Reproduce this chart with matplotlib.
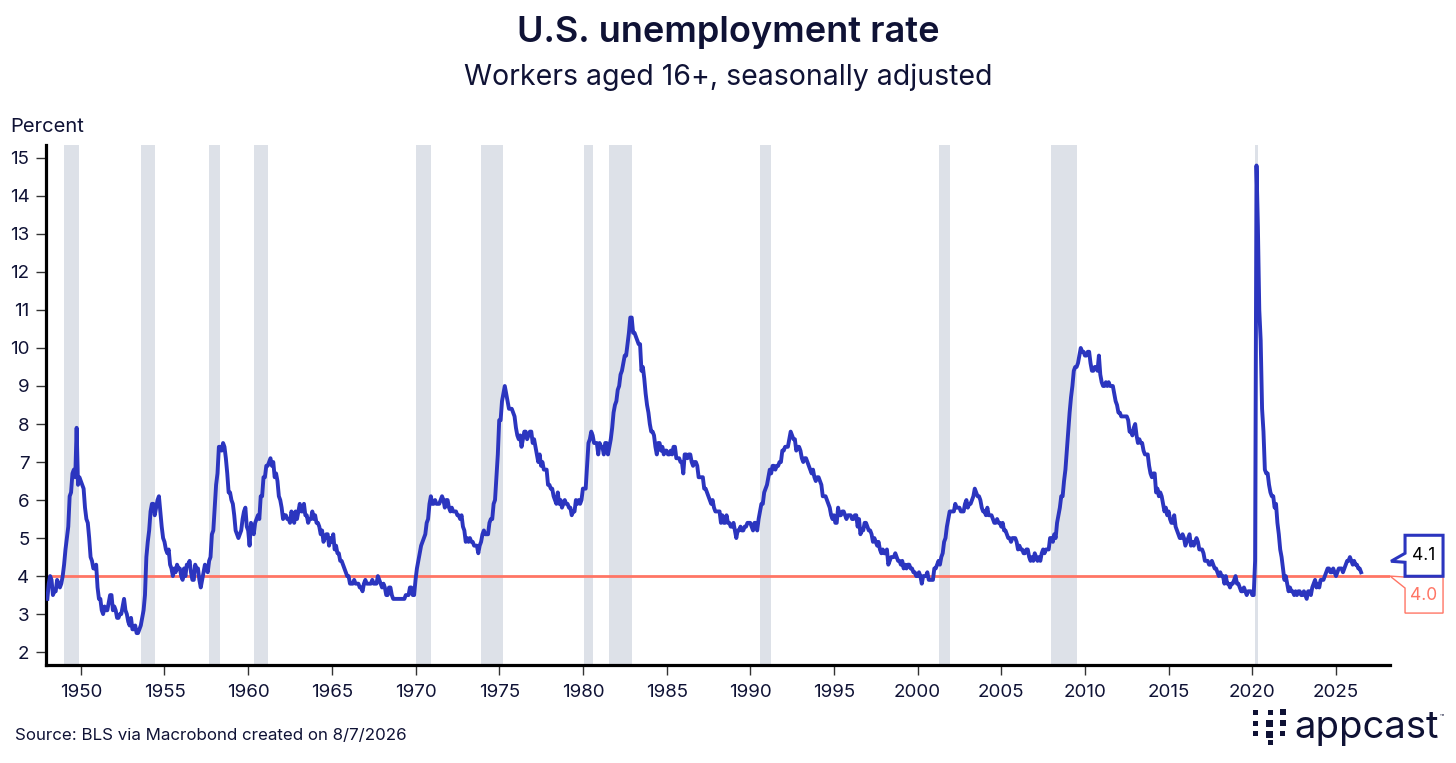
import numpy as np
import matplotlib
matplotlib.use("Agg")
import matplotlib.pyplot as plt
from matplotlib.patches import Polygon, Rectangle
from matplotlib.transforms import ScaledTranslation

# --- data: monthly unemployment rate, starting January 1948 ---
start_year = 1948
rate = [
    3.4, 3.8, 4.0, 3.9, 3.5, 3.6, 3.6, 3.9, 3.8, 3.7, 3.8, 4.0,   # 1948
    4.3, 4.7, 5.0, 5.3, 6.1, 6.2, 6.7, 6.8, 6.6, 7.9, 6.4, 6.6,   # 1949
    6.5, 6.4, 6.3, 5.8, 5.5, 5.4, 5.0, 4.5, 4.4, 4.2, 4.2, 4.3,   # 1950
    3.7, 3.4, 3.4, 3.1, 3.0, 3.2, 3.1, 3.1, 3.3, 3.5, 3.5, 3.1,   # 1951
    3.2, 3.1, 2.9, 2.9, 3.0, 3.0, 3.2, 3.4, 3.1, 3.0, 2.8, 2.7,   # 1952
    2.9, 2.6, 2.6, 2.7, 2.5, 2.5, 2.6, 2.7, 2.9, 3.1, 3.5, 4.5,   # 1953
    4.9, 5.2, 5.7, 5.9, 5.9, 5.6, 5.8, 6.0, 6.1, 5.7, 5.3, 5.0,   # 1954
    4.9, 4.7, 4.6, 4.7, 4.3, 4.2, 4.0, 4.2, 4.1, 4.3, 4.2, 4.2,   # 1955
    4.0, 3.9, 4.2, 4.0, 4.3, 4.3, 4.4, 4.1, 3.9, 3.9, 4.3, 4.2,   # 1956
    4.2, 3.9, 3.7, 3.9, 4.1, 4.3, 4.2, 4.1, 4.4, 4.5, 5.1, 5.2,   # 1957
    5.8, 6.4, 6.7, 7.4, 7.4, 7.3, 7.5, 7.4, 7.1, 6.7, 6.2, 6.2,   # 1958
    6.0, 5.9, 5.6, 5.2, 5.1, 5.0, 5.1, 5.2, 5.5, 5.7, 5.8, 5.3,   # 1959
    5.2, 4.8, 5.4, 5.2, 5.1, 5.4, 5.5, 5.6, 5.5, 6.1, 6.1, 6.6,   # 1960
    6.6, 6.9, 6.9, 7.0, 7.1, 6.9, 7.0, 6.6, 6.7, 6.5, 6.1, 6.0,   # 1961
    5.8, 5.5, 5.6, 5.6, 5.5, 5.5, 5.4, 5.7, 5.6, 5.4, 5.7, 5.5,   # 1962
    5.7, 5.9, 5.7, 5.7, 5.9, 5.6, 5.6, 5.4, 5.5, 5.5, 5.7, 5.5,   # 1963
    5.6, 5.4, 5.4, 5.3, 5.1, 5.2, 4.9, 5.0, 5.1, 5.1, 4.8, 5.0,   # 1964
    4.9, 5.1, 4.7, 4.8, 4.6, 4.6, 4.4, 4.4, 4.3, 4.2, 4.1, 4.0,   # 1965
    4.0, 3.8, 3.8, 3.8, 3.9, 3.8, 3.8, 3.8, 3.7, 3.7, 3.6, 3.8,   # 1966
    3.9, 3.8, 3.8, 3.8, 3.8, 3.9, 3.8, 3.8, 3.8, 4.0, 3.9, 3.8,   # 1967
    3.7, 3.8, 3.7, 3.5, 3.5, 3.7, 3.7, 3.5, 3.4, 3.4, 3.4, 3.4,   # 1968
    3.4, 3.4, 3.4, 3.4, 3.4, 3.5, 3.5, 3.5, 3.7, 3.7, 3.5, 3.5,   # 1969
    3.9, 4.2, 4.4, 4.6, 4.8, 4.9, 5.0, 5.1, 5.4, 5.5, 5.9, 6.1,   # 1970
    5.9, 5.9, 6.0, 5.9, 5.9, 5.9, 6.0, 6.1, 6.0, 5.8, 6.0, 6.0,   # 1971
    5.8, 5.7, 5.8, 5.7, 5.7, 5.7, 5.6, 5.6, 5.5, 5.6, 5.3, 5.2,   # 1972
    4.9, 5.0, 4.9, 5.0, 4.9, 4.9, 4.8, 4.8, 4.8, 4.6, 4.8, 4.9,   # 1973
    5.1, 5.2, 5.1, 5.1, 5.1, 5.4, 5.5, 5.5, 5.9, 6.0, 6.6, 7.2,   # 1974
    8.1, 8.1, 8.6, 8.8, 9.0, 8.8, 8.6, 8.4, 8.4, 8.4, 8.3, 8.2,   # 1975
    7.9, 7.7, 7.6, 7.7, 7.4, 7.6, 7.8, 7.8, 7.6, 7.7, 7.8, 7.8,   # 1976
    7.5, 7.6, 7.4, 7.2, 7.0, 7.2, 6.9, 7.0, 6.8, 6.8, 6.8, 6.4,   # 1977
    6.4, 6.3, 6.3, 6.1, 6.0, 5.9, 6.2, 5.9, 6.0, 5.8, 5.9, 6.0,   # 1978
    5.9, 5.9, 5.8, 5.8, 5.6, 5.7, 5.7, 6.0, 5.9, 6.0, 5.9, 6.0,   # 1979
    6.3, 6.3, 6.3, 6.9, 7.5, 7.6, 7.8, 7.7, 7.5, 7.5, 7.5, 7.2,   # 1980
    7.5, 7.4, 7.4, 7.2, 7.5, 7.5, 7.2, 7.4, 7.6, 7.9, 8.3, 8.5,   # 1981
    8.6, 8.9, 9.0, 9.3, 9.4, 9.6, 9.8, 9.8, 10.1, 10.4, 10.8, 10.8,  # 1982
    10.4, 10.4, 10.3, 10.2, 10.1, 10.1, 9.4, 9.5, 9.2, 8.8, 8.5, 8.3,  # 1983
    8.0, 7.8, 7.8, 7.7, 7.4, 7.2, 7.5, 7.5, 7.3, 7.4, 7.2, 7.3,   # 1984
    7.3, 7.2, 7.2, 7.3, 7.2, 7.4, 7.4, 7.1, 7.1, 7.1, 7.0, 7.0,   # 1985
    6.7, 7.2, 7.2, 7.1, 7.2, 7.2, 7.0, 6.9, 7.0, 7.0, 6.9, 6.6,   # 1986
    6.6, 6.6, 6.6, 6.3, 6.3, 6.2, 6.1, 6.0, 5.9, 6.0, 5.8, 5.7,   # 1987
    5.7, 5.7, 5.7, 5.4, 5.6, 5.4, 5.4, 5.6, 5.4, 5.4, 5.3, 5.3,   # 1988
    5.4, 5.2, 5.0, 5.2, 5.2, 5.3, 5.2, 5.2, 5.3, 5.3, 5.4, 5.4,   # 1989
    5.4, 5.3, 5.2, 5.4, 5.4, 5.2, 5.5, 5.7, 5.9, 5.9, 6.2, 6.3,   # 1990
    6.4, 6.6, 6.8, 6.7, 6.9, 6.9, 6.8, 6.9, 6.9, 7.0, 7.0, 7.3,   # 1991
    7.3, 7.4, 7.4, 7.4, 7.6, 7.8, 7.7, 7.6, 7.6, 7.3, 7.4, 7.4,   # 1992
    7.3, 7.1, 7.0, 7.1, 7.1, 7.0, 6.9, 6.8, 6.7, 6.8, 6.6, 6.5,   # 1993
    6.6, 6.6, 6.5, 6.4, 6.1, 6.1, 6.1, 6.0, 5.9, 5.8, 5.6, 5.5,   # 1994
    5.6, 5.4, 5.4, 5.8, 5.6, 5.6, 5.7, 5.7, 5.6, 5.5, 5.6, 5.6,   # 1995
    5.6, 5.5, 5.5, 5.6, 5.6, 5.3, 5.5, 5.1, 5.2, 5.2, 5.4, 5.4,   # 1996
    5.3, 5.2, 5.2, 5.1, 4.9, 5.0, 4.9, 4.8, 4.9, 4.7, 4.6, 4.7,   # 1997
    4.6, 4.6, 4.7, 4.3, 4.4, 4.5, 4.5, 4.5, 4.6, 4.5, 4.4, 4.4,   # 1998
    4.3, 4.4, 4.2, 4.3, 4.2, 4.3, 4.3, 4.2, 4.2, 4.1, 4.1, 4.0,   # 1999
    4.0, 4.1, 4.0, 3.8, 4.0, 4.0, 4.0, 4.1, 3.9, 3.9, 3.9, 3.9,   # 2000
    4.2, 4.2, 4.3, 4.4, 4.3, 4.5, 4.6, 4.9, 5.0, 5.3, 5.5, 5.7,   # 2001
    5.7, 5.7, 5.7, 5.9, 5.8, 5.8, 5.8, 5.7, 5.7, 5.7, 5.9, 6.0,   # 2002
    5.8, 5.9, 5.9, 6.0, 6.1, 6.3, 6.2, 6.1, 6.1, 6.0, 5.8, 5.7,   # 2003
    5.7, 5.6, 5.8, 5.6, 5.6, 5.6, 5.5, 5.4, 5.4, 5.5, 5.4, 5.4,   # 2004
    5.3, 5.4, 5.2, 5.2, 5.1, 5.0, 5.0, 4.9, 5.0, 5.0, 5.0, 4.9,   # 2005
    4.7, 4.8, 4.7, 4.7, 4.6, 4.6, 4.7, 4.7, 4.5, 4.4, 4.5, 4.4,   # 2006
    4.6, 4.5, 4.4, 4.5, 4.4, 4.6, 4.7, 4.6, 4.7, 4.7, 4.7, 5.0,   # 2007
    5.0, 4.9, 5.1, 5.0, 5.4, 5.6, 5.8, 6.1, 6.1, 6.5, 6.8, 7.3,   # 2008
    7.8, 8.3, 8.7, 9.0, 9.4, 9.5, 9.5, 9.6, 9.8, 10.0, 9.9, 9.9,  # 2009
    9.8, 9.8, 9.9, 9.9, 9.6, 9.4, 9.4, 9.5, 9.5, 9.4, 9.8, 9.3,   # 2010
    9.1, 9.0, 9.0, 9.1, 9.0, 9.1, 9.0, 9.0, 9.0, 8.8, 8.6, 8.5,   # 2011
    8.3, 8.3, 8.2, 8.2, 8.2, 8.2, 8.2, 8.1, 7.8, 7.8, 7.7, 7.9,   # 2012
    8.0, 7.7, 7.5, 7.6, 7.5, 7.5, 7.3, 7.2, 7.2, 7.2, 6.9, 6.7,   # 2013
    6.6, 6.7, 6.7, 6.2, 6.3, 6.1, 6.2, 6.1, 5.9, 5.7, 5.8, 5.6,   # 2014
    5.7, 5.5, 5.4, 5.4, 5.6, 5.3, 5.2, 5.1, 5.0, 5.0, 5.1, 5.0,   # 2015
    4.8, 4.9, 5.0, 5.1, 4.8, 4.9, 4.8, 4.9, 5.0, 4.9, 4.7, 4.7,   # 2016
    4.7, 4.6, 4.4, 4.4, 4.4, 4.3, 4.3, 4.4, 4.3, 4.2, 4.2, 4.1,   # 2017
    4.0, 4.1, 4.0, 4.0, 3.8, 4.0, 3.8, 3.8, 3.7, 3.8, 3.8, 3.9,   # 2018
    4.0, 3.8, 3.8, 3.7, 3.6, 3.6, 3.7, 3.6, 3.5, 3.6, 3.6, 3.6,   # 2019
    3.5, 3.5, 4.4, 14.8, 13.2, 11.0, 10.2, 8.4, 7.8, 6.8, 6.7, 6.7,  # 2020
    6.4, 6.2, 6.1, 6.1, 5.8, 5.9, 5.4, 5.1, 4.7, 4.5, 4.2, 3.9,   # 2021
    4.0, 3.8, 3.6, 3.7, 3.6, 3.6, 3.5, 3.6, 3.5, 3.6, 3.6, 3.5,   # 2022
    3.5, 3.6, 3.5, 3.4, 3.6, 3.6, 3.5, 3.7, 3.8, 3.9, 3.7, 3.8,   # 2023
    3.7, 3.9, 3.9, 3.9, 4.0, 4.1, 4.2, 4.2, 4.1, 4.1, 4.2, 4.1,   # 2024
    4.0, 4.1, 4.2, 4.2, 4.2, 4.1, 4.2, 4.3, 4.4, 4.4, 4.5, 4.4,   # 2025
    4.3, 4.4, 4.3, 4.3, 4.2, 4.2, 4.1,                            # 2026
]

# shaded recession periods, as drawn in the chart (month after peak .. month after trough)
recessions = [
    ("1949-01", "1949-12"), ("1953-08", "1954-06"), ("1957-09", "1958-05"),
    ("1960-05", "1961-03"), ("1970-01", "1970-12"), ("1973-12", "1975-04"),
    ("1980-02", "1980-08"), ("1981-08", "1982-12"), ("1990-08", "1991-04"),
    ("2001-04", "2001-12"), ("2008-01", "2009-07"), ("2020-03", "2020-05"),
]

reference_level = 4.0
x_ticks = list(range(1950, 2026, 5))
y_ticks = list(range(2, 16))

title = "U.S. unemployment rate"
subtitle = "Workers aged 16+, seasonally adjusted"
source = "Source: BLS via Macrobond created on 8/7/2026"

# colours
NAVY = "#0f1235"
BLUE = "#2b35bf"
SALMON = "#ff7565"
BAND = "#dde1e8"


def to_year(s):
    y, m = s.split("-")
    return int(y) + (int(m) - 1) / 12


years = start_year + np.arange(len(rate)) / 12

plt.rcParams["font.family"] = ["Inter", "DejaVu Sans"]

fig = plt.figure(figsize=(14.56, 7.63), dpi=100)
ax = fig.add_axes([0.0316, 0.1284, 0.9231, 0.6816])

x_min, x_max = 1947.92, 2028.23
ax.set_xlim(x_min, x_max)
ax.set_ylim(1.66, 15.34)

# recession shading
for a, b in recessions:
    ax.axvspan(to_year(a), to_year(b), color=BAND, lw=0, zorder=0)

ax.axhline(reference_level, color=SALMON, lw=2.0, zorder=2)
ax.plot(years, rate, color=BLUE, lw=2.8, zorder=3, solid_joinstyle="round")

for side in ["top", "right"]:
    ax.spines[side].set_visible(False)
for side in ["left", "bottom"]:
    ax.spines[side].set_linewidth(2.3)
    ax.spines[side].set_color("black")

ax.set_xticks(x_ticks)
ax.set_yticks(y_ticks)
ax.tick_params(axis="both", direction="out", length=7, width=1, color="#333333",
               labelsize=13.5, labelcolor=NAVY)
ax.tick_params(axis="x", pad=7)
ax.tick_params(axis="y", pad=5)

# end-of-series callouts
px = 1 / 100
last = rate[-1]
tr = fig.dpi_scale_trans + ScaledTranslation(x_max, last, ax.transData)
box41 = np.array([(1, 11), (15, 19), (15, 37), (53, 37), (53, -4), (15, -4), (15, 10)]) * px
ax.add_patch(Polygon(box41, closed=True, transform=tr, facecolor="white",
                     edgecolor=BLUE, lw=2.2, clip_on=False, zorder=6))
ax.text(34 * px, 16.5 * px, f"{last:.1f}", transform=tr, ha="center", va="center",
        fontsize=12.5, color="black", zorder=7)

tr2 = fig.dpi_scale_trans + ScaledTranslation(x_max, reference_level, ax.transData)
box40 = np.array([(0, 0), (15, -1), (53, -1), (53, -37), (15, -37), (15, -12)]) * px
ax.add_patch(Polygon(box40, closed=True, transform=tr2, facecolor="white",
                     edgecolor=SALMON, lw=1.0, clip_on=False, zorder=5))
ax.text(34 * px, -19 * px, f"{reference_level:.1f}", transform=tr2, ha="center", va="center",
        fontsize=12.5, color=SALMON, zorder=7)

# titles and notes
fig.text(0.5, 0.958, title, ha="center", va="center", fontsize=26, fontweight="semibold", color=NAVY)
fig.text(0.5, 0.899, subtitle, ha="center", va="center", fontsize=20.5, fontweight="normal", color=NAVY)
fig.text(10 / 1456, 1 - 127 / 763, "Percent", ha="left", va="center", fontsize=14.5, color=NAVY)
fig.text(15 / 1456, 1 - 736 / 763, source, ha="left", va="center", fontsize=12.2, color=NAVY)

# appcast logo
squares = [(1253, 710, 5), (1268, 710, 5), (1280, 709, 6),
           (1253, 721, 5), (1266, 720, 7), (1280, 720, 6),
           (1253, 731, 5), (1266, 731, 7), (1280, 731, 5),
           (1268, 740, 5)]
for sx, sy, s in squares:
    fig.patches.append(Rectangle((sx / 1456, 1 - (sy + s) / 763), s / 1456, s / 763,
                                 transform=fig.transFigure, facecolor=NAVY, edgecolor="none"))
fig.text(1294 / 1456, 1 - 738 / 763, "appcast", ha="left", va="baseline", fontsize=27.5, color=NAVY)
fig.text(1440 / 1456, 1 - 716 / 763, "\u2122", ha="left", va="center", fontsize=5, color=NAVY)

fig.savefig("out.png", dpi=100)
